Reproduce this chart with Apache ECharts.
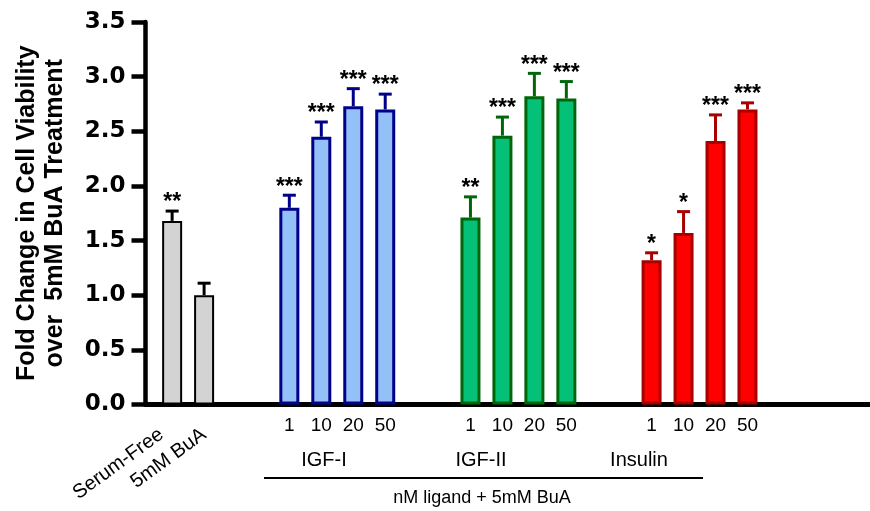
<!DOCTYPE html>
<html>
<head>
<meta charset="utf-8">
<script src="https://cdn.jsdelivr.net/npm/echarts@6/dist/echarts.min.js"></script>
<style>
html,body{margin:0;padding:0;background:#fff;}
#chart{width:870px;height:511px;}
</style>
</head>
<body>
<div id="chart"></div>
<script>
// ---- data ----
const controlLabels = ['Serum-Free', '5mM BuA'];
const controlMeans = [1.68, 1.00];
const controlErrs = [0.09, 0.11];
const controlStars = ['**', ''];

const doseLabels = ['1', '10', '20', '50'];
const groupNames = ['IGF-I', 'IGF-II', 'Insulin'];

const igf1Means = [1.80, 2.45, 2.73, 2.70];
const igf1Errs = [0.115, 0.135, 0.16, 0.14];
const igf1Stars = ['***', '***', '***', '***'];

const igf2Means = [1.71, 2.46, 2.82, 2.80];
const igf2Errs = [0.19, 0.17, 0.21, 0.155];
const igf2Stars = ['**', '***', '***', '***'];

const insulinMeans = [1.32, 1.57, 2.41, 2.70];
const insulinErrs = [0.068, 0.195, 0.24, 0.06];
const insulinStars = ['*', '*', '***', '***'];

const yTickValues = [0, 0.5, 1.0, 1.5, 2.0, 2.5, 3.0, 3.5];
const yTitle = 'Fold Change in Cell Viability\nover  5mM BuA Treatment';
const groupCaption = 'nM ligand + 5mM BuA';

// ---- styles ----
const controlStyle = {fill: '#d3d3d3', stroke: '#000000', bw: 2};
const groupStyles = [
  {fill: '#94c0f8', stroke: '#000088', bw: 3},
  {fill: '#05c077', stroke: '#00660a', bw: 3},
  {fill: '#ff0000', stroke: '#a80000', bw: 3}
];

// ---- slot layout (category axis with spacer slots) ----
const SLOTS = 68;
const controlSlots = [2, 5];
const controlLabelSlots = [1, 5];
const groupStart = [13, 30, 47];
const groupStep = 3;

const cats = [];
const doseText = [];
const rotText = [];
for (let i = 0; i < SLOTS; i++) { cats.push('s' + i); doseText.push(''); rotText.push(''); }

const barData = new Array(SLOTS).fill(null);
const errData = [];
const errColors = [];
const errStars = [];

controlSlots.forEach((s, k) => {
  rotText[controlLabelSlots[k]] = controlLabels[k];
  barData[s] = {value: controlMeans[k], itemStyle: {color: controlStyle.fill, borderColor: controlStyle.stroke, borderWidth: controlStyle.bw}};
  errData.push([s, controlMeans[k], controlErrs[k]]);
  errColors.push(controlStyle.stroke);
  errStars.push(controlStars[k]);
});

const groupMeans = [igf1Means, igf2Means, insulinMeans];
const groupErrs = [igf1Errs, igf2Errs, insulinErrs];
const groupStars = [igf1Stars, igf2Stars, insulinStars];
groupStart.forEach((g, gi) => {
  doseLabels.forEach((d, di) => {
    const s = g + di * groupStep;
    doseText[s] = d;
    const st = groupStyles[gi];
    barData[s] = {value: groupMeans[gi][di], itemStyle: {color: st.fill, borderColor: st.stroke, borderWidth: st.bw}};
    errData.push([s, groupMeans[gi][di], groupErrs[gi][di]]);
    errColors.push(st.stroke);
    errStars.push(groupStars[gi][di]);
  });
});

const chart = echarts.init(document.getElementById('chart'), null, {renderer: 'canvas'});
const FONT = '"Liberation Sans", Arial, sans-serif';

const option = {
  backgroundColor: '#ffffff',
  animation: false,
  grid: {left: 145.5, top: 22, width: 729, bottom: 106.5, containLabel: false},
  xAxis: [
    {
      type: 'category', data: cats, position: 'bottom', boundaryGap: true,
      axisLine: {show: true, lineStyle: {color: '#000', width: 5}},
      axisTick: {show: false},
      axisLabel: {
        interval: 0, margin: 12, color: '#000', fontSize: 19,
        fontFamily: FONT,
        formatter: (v, i) => doseText[i]
      }
    },
    {
      type: 'category', data: cats, position: 'bottom', boundaryGap: true,
      axisLine: {show: false}, axisTick: {show: false},
      axisLabel: {
        interval: 0, margin: 28, rotate: 36, color: '#000', fontSize: 20,
        fontFamily: FONT,
        formatter: (v, i) => rotText[i]
      }
    }
  ],
  yAxis: {
    type: 'value', min: 0, max: 3.5, interval: 0.5,
    name: yTitle, nameLocation: 'middle', nameRotate: 90, nameGap: 76,
    nameTextStyle: {
      fontFamily: FONT, fontWeight: 'bold', fontSize: 25,
      color: '#000', lineHeight: 28, align: 'center'
    },
    axisLine: {show: true, lineStyle: {color: '#000', width: 4.5}},
    axisTick: {show: true, length: 14, lineStyle: {color: '#000', width: 4.5}},
    splitLine: {show: false},
    axisLabel: {
      margin: 20, color: '#000', fontSize: 23, fontWeight: 'bold',
      fontFamily: 'DejaVu Sans, sans-serif',
      formatter: v => yTickValues.includes(v) ? v.toFixed(1) : ''
    }
  },
  series: [
    {
      type: 'bar', xAxisIndex: 0, data: barData, barWidth: 20,
      z: 2
    },
    {
      type: 'custom', xAxisIndex: 0, data: errData, z: 3,
      renderItem: function (params, api) {
        const x = api.value(0), m = api.value(1), e = api.value(2);
        const top = api.coord([x, m]);
        const cap = api.coord([x, m + e]);
        const col = errColors[params.dataIndex];
        const stars = errStars[params.dataIndex];
        return {
          type: 'group',
          children: [
            {type: 'line', shape: {x1: top[0], y1: top[1], x2: cap[0], y2: cap[1]}, style: {stroke: col, lineWidth: 3}},
            {type: 'line', shape: {x1: cap[0] - 6.5, y1: cap[1], x2: cap[0] + 6.5, y2: cap[1]}, style: {stroke: col, lineWidth: 3}},
            {type: 'text', x: cap[0], y: cap[1] - 8, style: {
              text: stars, fill: '#000', font: 'bold 23px ' + FONT,
              textAlign: 'center', textVerticalAlign: 'middle'
            }}
          ]
        };
      }
    }
  ],
  graphic: [
    {type: 'text', x: 324, y: 460, style: {text: groupNames[0], fill: '#000', font: '20px ' + FONT, textAlign: 'center', textVerticalAlign: 'middle'}},
    {type: 'text', x: 481, y: 460, style: {text: groupNames[1], fill: '#000', font: '20px ' + FONT, textAlign: 'center', textVerticalAlign: 'middle'}},
    {type: 'text', x: 639, y: 460, style: {text: groupNames[2], fill: '#000', font: '20px ' + FONT, textAlign: 'center', textVerticalAlign: 'middle'}},
    {type: 'line', shape: {x1: 264, y1: 478, x2: 703, y2: 478}, style: {stroke: '#000', lineWidth: 2}},
    {type: 'text', x: 482, y: 498, style: {text: groupCaption, fill: '#000', font: '18px ' + FONT, textAlign: 'center', textVerticalAlign: 'middle'}}
  ]
};
chart.setOption(option);
</script>
</body>
</html>
